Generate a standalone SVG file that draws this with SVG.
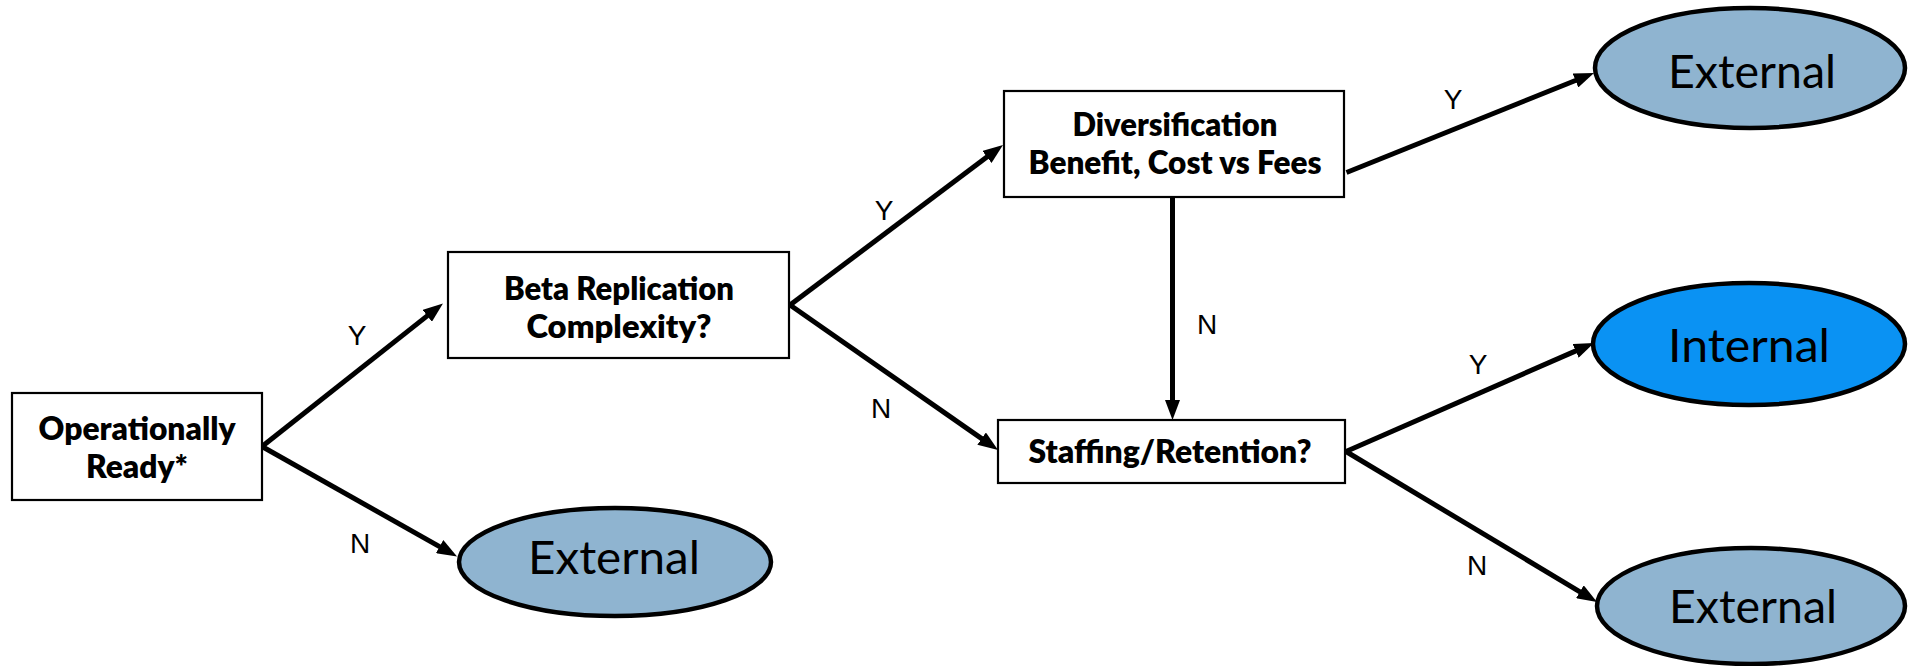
<svg xmlns="http://www.w3.org/2000/svg" width="1911" height="666" viewBox="0 0 1911 666">
  <style>
    .box { fill: #ffffff; stroke: #000000; stroke-width: 2.2; }
    .ext { fill: #8FB4D0; stroke: #000000; stroke-width: 4.5; }
    .int { fill: #0A92F3; stroke: #000000; stroke-width: 4.5; }
    .q { font-family: Lato, "Open Sans", "Liberation Sans", sans-serif; font-weight: 800; font-size: 32px; fill: #000000; text-anchor: middle; }
    .res { font-family: Lato, "Open Sans", "Liberation Sans", sans-serif; font-size: 47px; fill: #000000; text-anchor: middle; }
    .lbl { font-family: "Liberation Sans", Arial, sans-serif; font-size: 28px; fill: #000000; text-anchor: middle; }
    .edge { stroke: #000000; stroke-width: 5; fill: none; marker-end: url(#head); }
  </style>
  <defs>
    <marker id="head" viewBox="0 0 20 15" markerWidth="20" markerHeight="15" markerUnits="userSpaceOnUse" refX="4" refY="7.5" orient="auto">
      <path d="M0,0 L20,7.5 L0,15 z" fill="#000000"/>
    </marker>
  </defs>

  <!-- connectors: each line stops 16px short of its arrow tip -->
  <g id="connectors">
    <line class="edge" x1="262" y1="446.5" x2="430.4" y2="313.4"/>
    <line class="edge" x1="262" y1="446.5" x2="443.1" y2="548.6"/>
    <line class="edge" x1="790" y1="305" x2="990.2" y2="154.6"/>
    <line class="edge" x1="790" y1="305" x2="984.9" y2="440.9"/>
    <line class="edge" x1="1172.5" y1="198" x2="1172.5" y2="404"/>
    <line class="edge" x1="1346.5" y1="172.5" x2="1579.2" y2="79.0"/>
    <line class="edge" x1="1346" y1="451.5" x2="1579.3" y2="349.4"/>
    <line class="edge" x1="1346" y1="451.5" x2="1583.3" y2="593.8"/>

    <text class="lbl" x="357" y="345">Y</text>
    <text class="lbl" x="360" y="553">N</text>
    <text class="lbl" x="884" y="220">Y</text>
    <text class="lbl" x="881" y="418">N</text>
    <text class="lbl" x="1207" y="334">N</text>
    <text class="lbl" x="1453" y="109">Y</text>
    <text class="lbl" x="1478" y="374">Y</text>
    <text class="lbl" x="1477" y="575">N</text>
  </g>

  <!-- decision boxes -->
  <g id="operationally-ready">
    <rect class="box" x="12" y="393" width="250" height="107"/>
    <text class="q" x="137" y="440" textLength="197" lengthAdjust="spacingAndGlyphs">Operationally</text>
    <text class="q" x="137" y="478" textLength="102" lengthAdjust="spacingAndGlyphs">Ready*</text>
  </g>

  <g id="beta-replication">
    <rect class="box" x="448" y="252" width="341" height="106"/>
    <text class="q" x="619" y="300" textLength="230" lengthAdjust="spacingAndGlyphs">Beta Replication</text>
    <text class="q" x="619" y="338" textLength="185" lengthAdjust="spacingAndGlyphs">Complexity?</text>
  </g>

  <g id="diversification">
    <rect class="box" x="1004" y="91" width="340" height="106"/>
    <text class="q" x="1175" y="136" textLength="205" lengthAdjust="spacingAndGlyphs">Diversification</text>
    <text class="q" x="1175" y="174" textLength="293" lengthAdjust="spacingAndGlyphs">Benefit, Cost vs Fees</text>
  </g>

  <g id="staffing">
    <rect class="box" x="998" y="420" width="347" height="63"/>
    <text class="q" x="1170" y="463" textLength="283" lengthAdjust="spacingAndGlyphs">Staffing/Retention?</text>
  </g>

  <!-- outcomes -->
  <g id="external-early">
    <ellipse class="ext" cx="615" cy="562" rx="156" ry="54"/>
    <text class="res" x="614" y="574" textLength="172" lengthAdjust="spacingAndGlyphs">External</text>
  </g>

  <g id="external-top">
    <ellipse class="ext" cx="1750" cy="68" rx="155" ry="60"/>
    <text class="res" x="1752" y="88" textLength="168" lengthAdjust="spacingAndGlyphs">External</text>
  </g>

  <g id="internal">
    <ellipse class="int" cx="1749" cy="344" rx="156" ry="61"/>
    <text class="res" x="1749" y="362" textLength="162" lengthAdjust="spacingAndGlyphs">Internal</text>
  </g>

  <g id="external-bottom">
    <ellipse class="ext" cx="1751" cy="606" rx="154" ry="58"/>
    <text class="res" x="1753" y="623" textLength="168" lengthAdjust="spacingAndGlyphs">External</text>
  </g>
</svg>
